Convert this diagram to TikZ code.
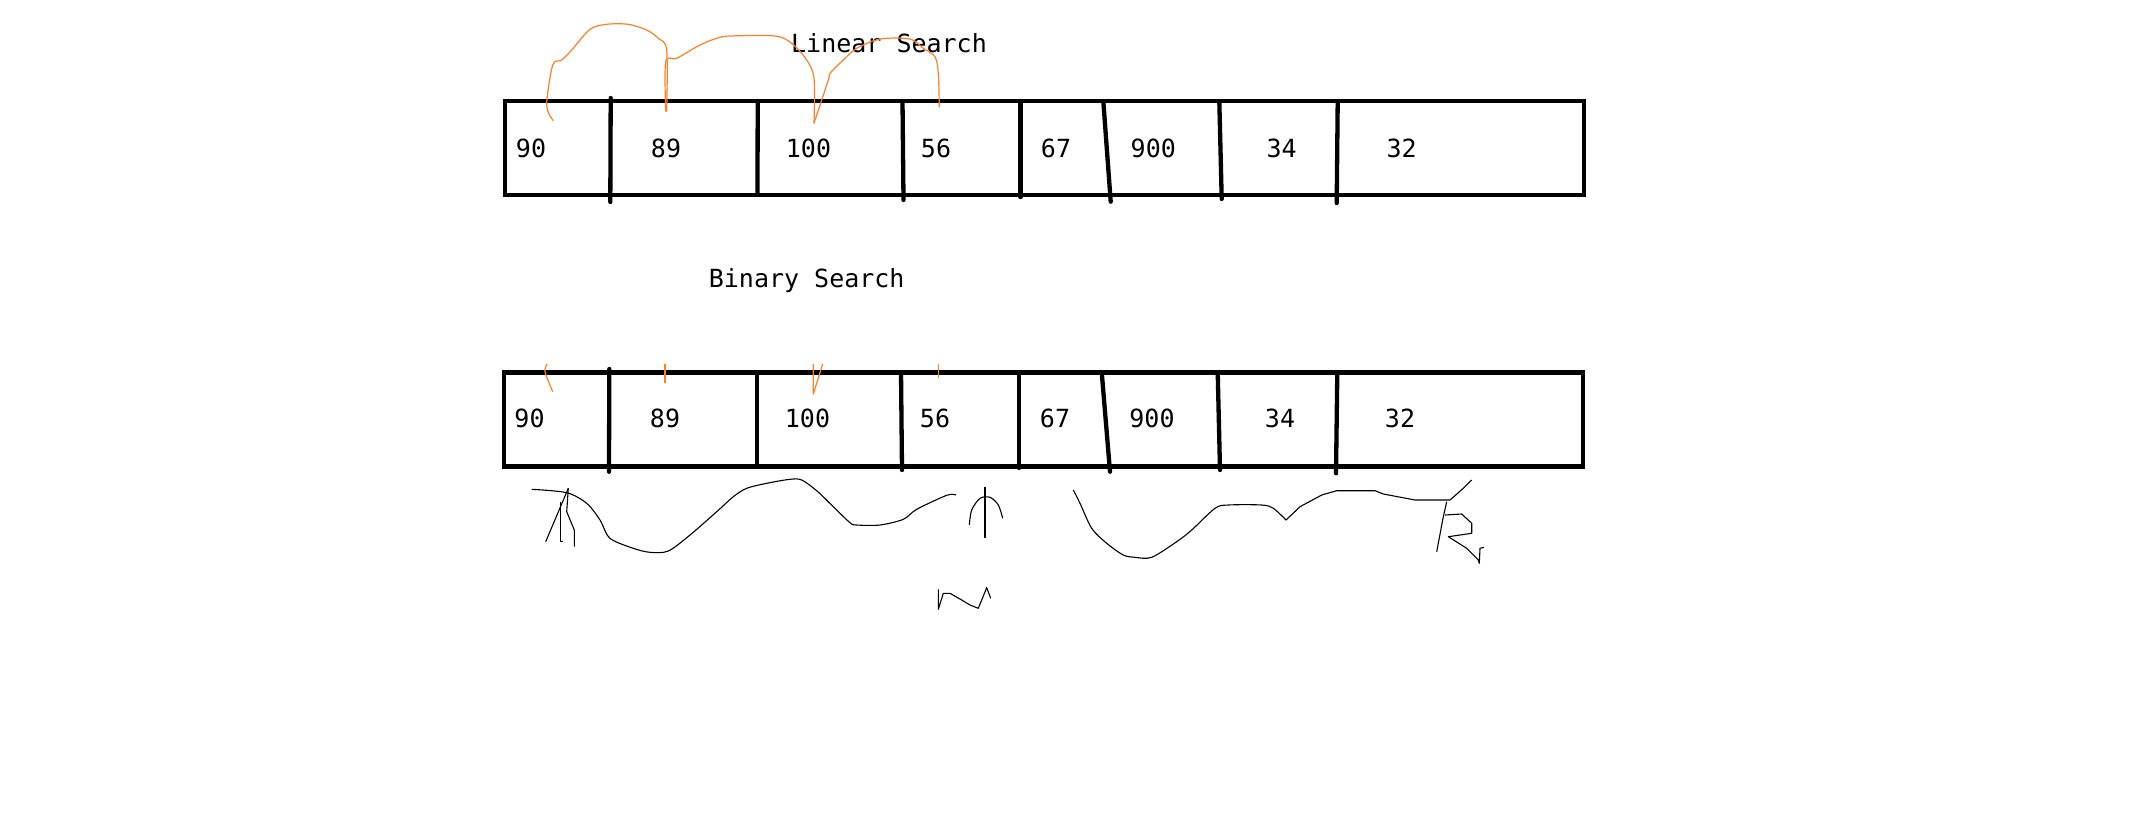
\documentclass[tikz,border=0pt]{standalone}
\usepackage{fontspec}
\newfontfamily\monofont{DejaVu Sans Mono}
\definecolor{paintorange}{RGB}{255,127,39}
\begin{document}
\begin{tikzpicture}[x=1pt,y=-1pt,
  cellbox/.style={draw=black,line width=4.3pt},
  divider/.style={draw=black,line width=4.3pt,line cap=round},
  val/.style={font=\monofont\fontsize{25}{29}\selectfont,anchor=base,inner sep=0pt},
  hop/.style={draw=paintorange,line width=1.2pt,line join=round},
  scrib/.style={draw=black,line width=1.1pt,line join=round}]
\fill[white] (0,0) rectangle (2131,839);
\useasboundingbox (0,0) rectangle (2131,839);

% ---------- titles
\node[val] (lin) at (889,52) {Linear Search};
\node[val] (bin) at (806.7,287) {Binary Search};

% ---------- top array
\draw[cellbox] (505,101) rectangle (1584,195);
\coordinate (a1t) at (610.7,98);  \coordinate (a1b) at (610.3,202);
\coordinate (a2t) at (757.7,101); \coordinate (a2b) at (757.5,194);
\coordinate (a3t) at (902.5,101); \coordinate (a3b) at (903.5,200);
\coordinate (a4t) at (1020.6,101);\coordinate (a4b) at (1020.6,197);
\coordinate (a5t) at (1103.3,101);\coordinate (a5b) at (1110.7,201.7);
\coordinate (a6t) at (1219.3,101);\coordinate (a6b) at (1221.7,199);
\coordinate (a7t) at (1337.7,101);\coordinate (a7b) at (1336.7,203);
\foreach \i in {1,...,7} \draw[divider] (a\i t) -- (a\i b);

\node[val] (t1) at (531,157) {90};
\node[val] (t2) at (666,157) {89};
\node[val] (t3) at (808.5,157) {100};
\node[val] (t4) at (936,157) {56};
\node[val] (t5) at (1056,157) {67};
\node[val] (t6) at (1153.3,157) {900};
\node[val] (t7) at (1281.7,157) {34};
\node[val] (t8) at (1401.7,157) {32};

% ---------- bottom array
\draw[cellbox] (504,372.5) rectangle (1583,466.5);
\coordinate (b1t) at (609.3,369);  \coordinate (b1b) at (609,471.7);
\coordinate (b2t) at (756.7,372);  \coordinate (b2b) at (756.7,466);
\coordinate (b3t) at (901,372);    \coordinate (b3b) at (902,470);
\coordinate (b4t) at (1019,372);   \coordinate (b4b) at (1019,468);
\coordinate (b5t) at (1101.7,372); \coordinate (b5b) at (1110,471.7);
\coordinate (b6t) at (1217.7,372); \coordinate (b6b) at (1220,470);
\coordinate (b7t) at (1337.3,372); \coordinate (b7b) at (1336,473.3);
\foreach \i in {1,...,7} \draw[divider] (b\i t) -- (b\i b);

\node[val] (u1) at (529.5,427.5) {90};
\node[val] (u2) at (665,427.5) {89};
\node[val] (u3) at (807.5,427.5) {100};
\node[val] (u4) at (935,427.5) {56};
\node[val] (u5) at (1055,427.5) {67};
\node[val] (u6) at (1152,427.5) {900};
\node[val] (u7) at (1280,427.5) {34};
\node[val] (u8) at (1400,427.5) {32};

% ---------- orange hops (linear search)
\draw[hop] plot[smooth,tension=0.5] coordinates {(553.3,120.7) (546.7,105) (552.7,65) (561.7,60) (571.7,50) (590,29.3) (606.7,24.3) (628.3,24.3) (646.7,30) (658.3,38.3) (666.7,50) (666.7,111.7)};
\draw[hop] plot[smooth,tension=0.5] coordinates {(665.7,111.7) (665.7,61.7) (676.7,58.3) (700,45) (716.7,38.3) (730,36) (775,36) (791.7,43.3) (806.7,60) (814,78.3) (814,123.3)};
\draw[hop] plot[smooth,tension=0.5] coordinates {(814,123.3) (828.3,80) (830,73.3) (843.3,60) (856.7,48.3) (880,39) (910,39) (923.3,48.3) (935,56.7) (938.3,73.3) (939.3,107.3)};

% ---------- orange ticks (binary search)
\draw[hop] plot[smooth,tension=0.5] coordinates {(547.3,364) (545,371.7) (552.7,391.7)};
\draw[hop,line width=1.6pt] (665,364) -- (665,382.7);
\draw[hop] (813.3,364) -- (813.3,394) -- (822.7,364);
\draw[hop] (938.3,364) -- (938.3,378.3);

% ---------- black scribbles under bottom array
% left glyph
\draw[scrib] (568.3,488.3) -- (566.7,511.7) -- (574.3,530) -- (574.3,546.7);
\draw[scrib] (568.3,488.3) -- (545.7,541.7);
\draw[scrib] (560.7,501.7) -- (560.7,541.7) -- (562.7,541.7);
% left wave
\draw[scrib] plot[smooth,tension=0.5] coordinates {(531.7,489.3) (566.7,492.7) (586.7,503.3) (600,520) (610,538.3) (633.3,548.3) (650,552.3) (668.3,551) (690,535) (716.7,511.7) (733.3,496.7) (746.7,488.3) (766.7,483.3) (790,479.3) (801.7,480) (816.7,490.7) (833.3,506.7) (850,522.7) (856.7,525) (880,525) (903.3,519.3) (916.7,509.3) (946.7,495.3) (956,495)};
% middle glyph
\draw[scrib] (985,486.7) -- (985,538.3);
\draw[scrib] plot[smooth,tension=0.5] coordinates {(969.3,525) (971.7,510) (980,498.3) (990,497.3) (998.3,505) (1002.7,518.3)};
% glyph below
\draw[scrib] (938.3,589.3) -- (938.3,609.3) -- (943.3,593.3) -- (950,593.3) -- (961.7,600) -- (970,605) -- (978.3,608.3) -- (986.7,587.7) -- (990.7,598.3);
% right wave
\draw[scrib] plot[smooth,tension=0.5] coordinates {(1073.3,490) (1080,503.3) (1091.7,528.3) (1106.7,543.3) (1123.3,555) (1135,557.3) (1151.7,557.3) (1176.7,541.7) (1191.7,530) (1215,508.3) (1228.3,505) (1261.7,505) (1273.3,508.3) (1286,520)};
\draw[scrib] (1286,520) -- (1300,506.7) -- (1321.7,495) -- (1336.7,490.7) -- (1375,490.7) -- (1383.3,494) -- (1415,500) -- (1450,500) -- (1463.3,488.3) -- (1471.7,480);
% R glyph
\draw[scrib] (1446.7,501.7) -- (1443.3,516.7) -- (1436.7,551.7);
\draw[scrib] (1445,515) -- (1461.7,514) -- (1471.7,523.3) -- (1471.7,533.3) -- (1448.3,536.7) -- (1466.7,548.3) -- (1478.3,560) -- (1479.3,563.3) -- (1480,548.3) -- (1484,547.3);
\end{tikzpicture}
\end{document}
